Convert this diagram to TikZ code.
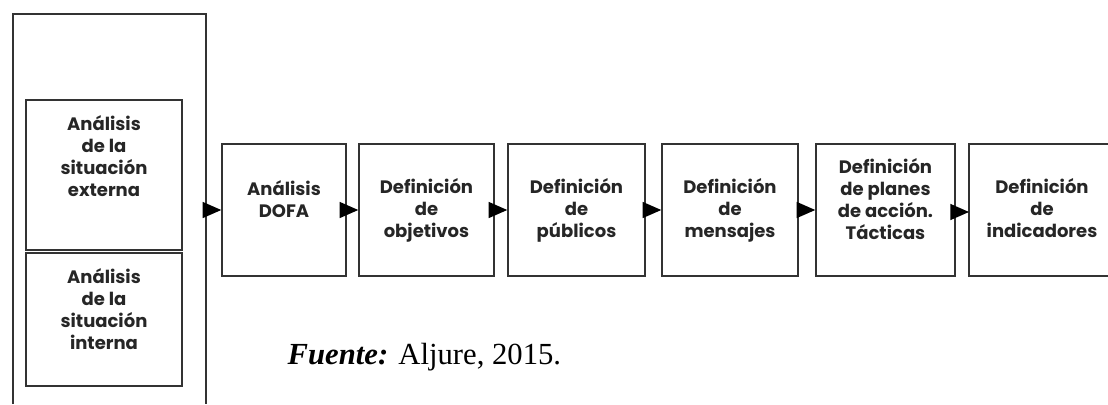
\documentclass[tikz,border=0pt]{standalone}
\usepackage{fontspec}
\setmainfont{Liberation Serif}
\newfontfamily\boxfont{Poppins}
\usetikzlibrary{arrows.meta}

\begin{document}
\begin{tikzpicture}[x=0.75pt, y=-0.75pt]
\tikzset{ >={Triangle[length=14pt,width=12pt]},
  frame/.style={draw=black!80, line width=1.1pt},
  box/.style={frame, inner sep=0pt, minimum height=99pt},
  link/.style={->, draw=black, line width=1.1pt},
  boxtxt/.style={align=center, text=black!85, font=\boxfont\bfseries\fontsize{13.5}{16.5}\selectfont},
}
\useasboundingbox (0,0) rectangle (1108,404);

%\draw [lightgray, dashed](0,0) grid (1108,404);

% left frame, open at the bottom
\draw [frame] (13,404) -- (13,14) -- (206,14) -- (206,404);
\coordinate (M) at (206,210);

\node [box, minimum width=117pt, minimum height=112.5pt] (E) at (104,175) {};
\node [box, minimum width=117pt, minimum height=99.75pt] (I) at (104,319.5) {};

\node [box, minimum width=93pt]     (D) at (284,210) {};
\node [box, minimum width=101.25pt] (O) at (426.5,210) {};
\node [box, minimum width=102.75pt] (P) at (576.5,210) {};
\node [box, minimum width=102pt]    (S) at (730,210) {};
\node [box, minimum width=104.25pt] (T) at (885.5,210) {};

% last box runs off the page
\draw [frame] (1108,144) -- (969,144) -- (969,276) -- (1108,276);
\coordinate (K) at (969,212);

\draw [link] (M) -- (D);
\draw [link] (D) -- (O);
\draw [link] (O) -- (P);
\draw [link] (P) -- (S);
\draw [link] (S) -- (T);
\draw [link] (T.east |- K) -- (K);

\node [boxtxt] (Et) at (104,156)    {Análisis\\de la\\situación\\externa};
\node [boxtxt] (It) at (104,309)    {Análisis\\de la\\situación\\interna};
\node [boxtxt] (Dt) at (284,199.5)  {Análisis\\DOFA};
\node [boxtxt] (Ot) at (426.5,210)  {Definición\\de\\objetivos};
\node [boxtxt] (Pt) at (576.5,210)  {Definición\\de\\públicos};
\node [boxtxt] (St) at (730,210)    {Definición\\de\\mensajes};
\node [boxtxt] (Tt) at (885.5,199)  {Definición\\de planes\\de acción.\\Tácticas};
\node [boxtxt] (Kt) at (1042,208)   {Definición\\de\\indicadores};

\node [anchor=base west, font=\fontsize{23}{27}\selectfont] (F) at (283,364)
  {\textbf{\textit{Fuente:}} Aljure, 2015.};

\end{tikzpicture}
\end{document}
